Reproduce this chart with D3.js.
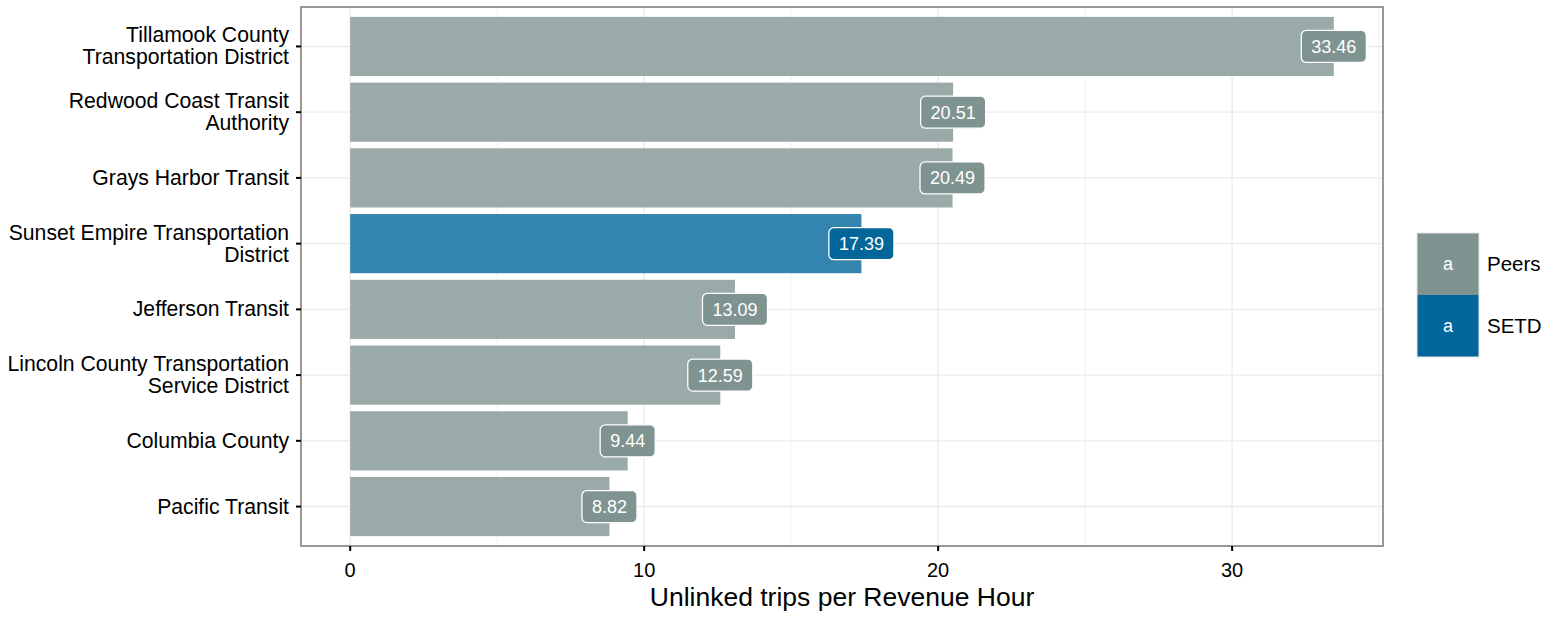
<!DOCTYPE html>
<html><head><meta charset="utf-8">
<script src="https://cdn.jsdelivr.net/npm/d3@7"></script>
<style>body{margin:0;background:#fff;font-family:"Liberation Sans",Arial,sans-serif;}</style>
</head><body>
<svg id="c" width="1557" height="617"></svg>
<script>
const categories = [
  ["Tillamook County", "Transportation District"],
  ["Redwood Coast Transit", "Authority"],
  ["Grays Harbor Transit"],
  ["Sunset Empire Transportation", "District"],
  ["Jefferson Transit"],
  ["Lincoln County Transportation", "Service District"],
  ["Columbia County"],
  ["Pacific Transit"]
];
const values = [33.46, 20.51, 20.49, 17.39, 13.09, 12.59, 9.44, 8.82];
const groups = ["Peers", "Peers", "Peers", "SETD", "Peers", "Peers", "Peers", "Peers"];
const legendLabels = ["Peers", "SETD"];
const xTicks = [0, 10, 20, 30];
const xMinor = [5, 15, 25, 35];
const xTitle = "Unlinked trips per Revenue Hour";

const barFill = {Peers: "#9aaaa9", SETD: "#3385b0"};
const labelFill = {Peers: "#7f9391", SETD: "#02669b"};

const svg = d3.select("#c");
const P = {l: 301, r: 1383, t: 7, b: 546};
const maxV = d3.max(values);
const x = d3.scaleLinear().domain([-0.05 * maxV, maxV * 1.05]).range([P.l, P.r]);
const idx = d3.range(categories.length);
const step = (P.b - P.t) / (categories.length - 1 + 1.2);
const yc = i => P.t + step * (0.6 + i);
const barH = step * 0.9;

// grid
const g = svg.append("g");
g.selectAll(".minor").data(xMinor.filter(v => x(v) < P.r)).enter().append("line")
  .attr("x1", d => x(d)).attr("x2", d => x(d)).attr("y1", P.t).attr("y2", P.b)
  .attr("stroke", "#f2f2f2").attr("stroke-width", 1);
g.selectAll(".major").data(xTicks).enter().append("line")
  .attr("x1", d => x(d)).attr("x2", d => x(d)).attr("y1", P.t).attr("y2", P.b)
  .attr("stroke", "#ebebeb").attr("stroke-width", 1.4);
g.selectAll(".hy").data(idx).enter().append("line")
  .attr("x1", P.l).attr("x2", P.r).attr("y1", d => yc(d)).attr("y2", d => yc(d))
  .attr("stroke", "#ebebeb").attr("stroke-width", 1.4);

// bars
svg.selectAll(".bar").data(idx).enter().append("rect")
  .attr("x", x(0)).attr("y", i => yc(i) - barH / 2)
  .attr("width", i => x(values[i]) - x(0)).attr("height", barH)
  .attr("fill", i => barFill[groups[i]]);

// labels
const lab = svg.selectAll(".lab").data(idx).enter().append("g")
  .attr("transform", i => `translate(${x(values[i])},${yc(i)})`);
const lr = lab.append("rect").attr("y", -16).attr("height", 32)
  .attr("rx", 5).attr("fill", i => labelFill[groups[i]]).attr("stroke", "#fff").attr("stroke-width", 1.3);
const lt = lab.append("text").attr("text-anchor", "middle").attr("dy", "0.36em")
  .attr("fill", "#fff").attr("font-size", 18).text(i => values[i].toFixed(2));
lt.each(function(d, k) {
  const w = this.getComputedTextLength() + 20;
  d3.select(lr.nodes()[k]).attr("x", -w / 2).attr("width", w);
});

// panel border
svg.append("rect").attr("x", P.l).attr("y", P.t).attr("width", P.r - P.l).attr("height", P.b - P.t)
  .attr("fill", "none").attr("stroke", "#7f7f7f").attr("stroke-width", 1.6);

// y axis
const ya = svg.append("g");
idx.forEach(i => {
  ya.append("line").attr("x1", P.l - 5).attr("x2", P.l).attr("y1", yc(i)).attr("y2", yc(i))
    .attr("stroke", "#000").attr("stroke-width", 2);
  const lines = categories[i];
  const t = ya.append("text").attr("text-anchor", "end").attr("font-size", 21.2).attr("fill", "#000");
  lines.forEach((ln, k) => {
    t.append("tspan").attr("x", P.l - 12)
      .attr("y", yc(i) + (k - (lines.length - 1) / 2) * 22 + 7).text(ln);
  });
});

// x axis
const xa = svg.append("g");
xTicks.forEach(v => {
  xa.append("line").attr("x1", x(v)).attr("x2", x(v)).attr("y1", P.b).attr("y2", P.b + 5)
    .attr("stroke", "#000").attr("stroke-width", 2);
  xa.append("text").attr("x", x(v)).attr("y", P.b + 31).attr("text-anchor", "middle")
    .attr("font-size", 20).attr("fill", "#000").text(v);
});
svg.append("text").attr("x", (P.l + P.r) / 2).attr("y", 606).attr("text-anchor", "middle")
  .attr("font-size", 26.5).attr("fill", "#000").text(xTitle);

// legend
const lg = svg.append("g");
legendLabels.forEach((l, k) => {
  const y0 = 233 + k * 62;
  lg.append("rect").attr("x", 1417).attr("y", y0).attr("width", 62).attr("height", 62)
    .attr("fill", labelFill[l]);
  lg.append("text").attr("x", 1448).attr("y", y0 + 31).attr("dy", "0.36em").attr("text-anchor", "middle")
    .attr("fill", "#fff").attr("font-size", 18).text("a");
  lg.append("text").attr("x", 1487).attr("y", y0 + 31).attr("dy", "0.36em")
    .attr("fill", "#000").attr("font-size", 20.5).text(l);
});
lg.append("rect").attr("x", 1417).attr("y", 233).attr("width", 62).attr("height", 124)
  .attr("fill", "none").attr("stroke", "#e6e6e6").attr("stroke-width", 1);
</script>
</body></html>
